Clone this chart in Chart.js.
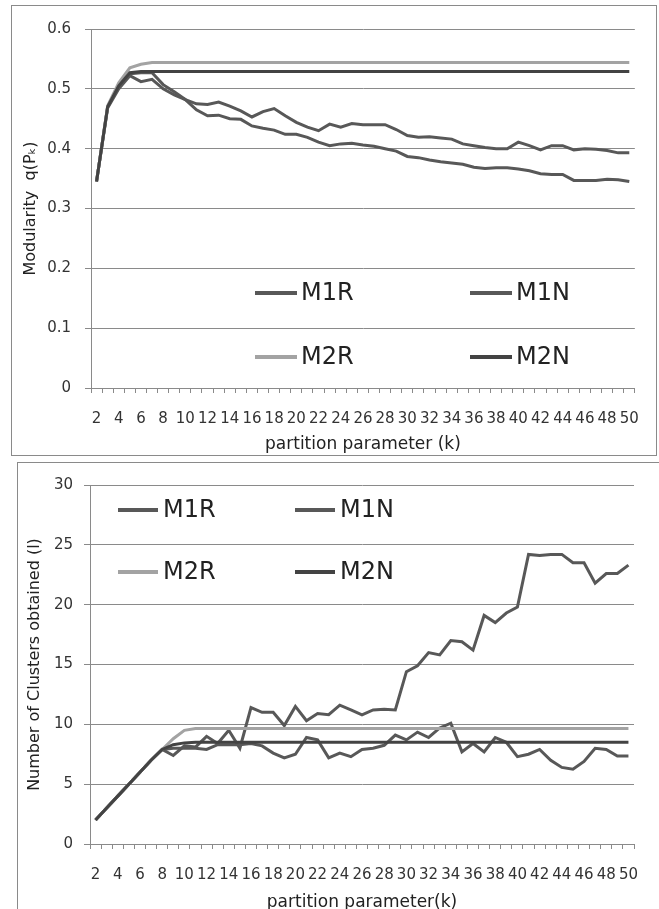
<!DOCTYPE html>
<html>
<head>
<meta charset="utf-8">
<script src="https://cdn.jsdelivr.net/npm/chart.js@4.4.1/dist/chart.umd.min.js"></script>
<style>
  body { margin: 0; width: 659px; height: 909px; overflow: hidden; background: #fff; position: relative; }
  .box { position: absolute; border: 1px solid #8a8a8a; background: #fff; }
  #box1 { left: 11px; top: 5px; width: 644px; height: 449px; }
  #box2 { left: 17px; top: 462px; width: 650px; height: 450px; }
  canvas { display: block; }
</style>
</head>
<body>
<div class="box" id="box1"><canvas id="js-modChart" width="644" height="449"></canvas></div>
<div class="box" id="box2"><canvas id="js-clusterChart" width="650" height="450"></canvas></div>
<script>
// partition parameter k
var kLabels = [2,3,4,5,6,7,8,9,10,11,12,13,14,15,16,17,18,19,20,21,22,23,24,25,26,
  27,28,29,30,31,32,33,34,35,36,37,38,39,40,41,42,43,44,45,46,47,48,49,50];

// modularity q(Pk)
var modM1R = [0.345,0.47,0.505,0.525,0.527,0.527,0.507,0.495,0.482,0.475,0.474,0.478,0.471,0.463,0.453,0.462,0.467,0.455,0.444,0.436,0.43,0.441,0.436,0.442,0.44,
  0.44,0.44,0.432,0.422,0.419,0.42,0.418,0.416,0.408,0.405,0.402,0.4,0.4,0.411,0.405,0.398,0.405,0.405,0.398,0.4,0.399,0.397,0.393,0.393];
var modM1N = [0.345,0.468,0.5,0.522,0.512,0.516,0.5,0.49,0.482,0.465,0.455,0.456,0.45,0.449,0.438,0.434,0.431,0.424,0.424,0.419,0.411,0.405,0.408,0.409,0.406,
  0.404,0.4,0.396,0.387,0.385,0.381,0.378,0.376,0.374,0.369,0.367,0.368,0.368,0.366,0.363,0.358,0.357,0.357,0.347,0.347,0.347,0.349,0.348,0.345];
var modM2R = [0.345,0.472,0.51,0.535,0.541,0.544,0.544,0.544,0.544,0.544,0.544,0.544,0.544,0.544,0.544,0.544,0.544,0.544,0.544,0.544,0.544,0.544,0.544,0.544,0.544,
  0.544,0.544,0.544,0.544,0.544,0.544,0.544,0.544,0.544,0.544,0.544,0.544,0.544,0.544,0.544,0.544,0.544,0.544,0.544,0.544,0.544,0.544,0.544,0.544];
var modM2N = [0.345,0.47,0.505,0.527,0.529,0.529,0.529,0.529,0.529,0.529,0.529,0.529,0.529,0.529,0.529,0.529,0.529,0.529,0.529,0.529,0.529,0.529,0.529,0.529,0.529,
  0.529,0.529,0.529,0.529,0.529,0.529,0.529,0.529,0.529,0.529,0.529,0.529,0.529,0.529,0.529,0.529,0.529,0.529,0.529,0.529,0.529,0.529,0.529,0.529];
var modTicks = [0, 0.6, 0.1]; // min, max, step

// number of clusters obtained (l)
var cluM1R = [2,3,4,5,6,7,7.9,7.4,8.2,8.1,9.0,8.4,9.5,8.0,11.4,11.0,11.0,9.9,11.5,10.3,10.9,10.8,11.6,11.2,10.8,
  11.2,11.25,11.2,14.4,14.9,16.0,15.8,17.0,16.9,16.2,19.1,18.5,19.3,19.8,24.2,24.1,24.2,24.2,23.5,23.5,21.8,22.6,22.6,23.3];
var cluM1N = [2,3,4,5,6,7,7.9,8.0,8.0,8.0,7.9,8.3,8.3,8.3,8.4,8.2,7.6,7.2,7.5,8.9,8.7,7.2,7.6,7.3,7.9,
  8.0,8.25,9.1,8.7,9.35,8.9,9.7,10.1,7.7,8.4,7.7,8.9,8.5,7.3,7.5,7.9,7.0,6.4,6.25,6.9,8.0,7.9,7.35,7.35];
var cluM2R = [2,3,4,5,6,7,7.9,8.8,9.5,9.65,9.65,9.65,9.65,9.65,9.65,9.65,9.65,9.65,9.65,9.65,9.65,9.65,9.65,9.65,9.65,
  9.65,9.65,9.65,9.65,9.65,9.65,9.65,9.65,9.65,9.65,9.65,9.65,9.65,9.65,9.65,9.65,9.65,9.65,9.65,9.65,9.65,9.65,9.65,9.65];
var cluM2N = [2,3,4,5,6,7,7.9,8.3,8.45,8.5,8.5,8.5,8.5,8.5,8.5,8.5,8.5,8.5,8.5,8.5,8.5,8.5,8.5,8.5,8.5,
  8.5,8.5,8.5,8.5,8.5,8.5,8.5,8.5,8.5,8.5,8.5,8.5,8.5,8.5,8.5,8.5,8.5,8.5,8.5,8.5,8.5,8.5,8.5,8.5];
var cluTicks = [0, 30, 5];

var seriesNames = ['M1R', 'M1N', 'M2R', 'M2N'];
var seriesColors = ['#585858', '#585858', '#a3a3a3', '#434343'];

Chart.defaults.font.family = "'DejaVu Sans', sans-serif";
Chart.defaults.color = '#333';

// legend drawn as a 2x2 grid inside the plot
var legendGrid = {
  id: 'legendGrid',
  afterDraw: function(chart, args, opts) {
    var ctx = chart.ctx;
    ctx.save();
    ctx.font = opts.font;
    ctx.textBaseline = 'middle';
    chart.data.datasets.forEach(function(ds, i) {
      var x = opts.cols[i % 2], y = opts.rows[Math.floor(i / 2)];
      ctx.strokeStyle = ds.borderColor;
      ctx.lineWidth = 4;
      ctx.beginPath();
      ctx.moveTo(x, y);
      ctx.lineTo(x + opts.lineLen, y);
      ctx.stroke();
      ctx.fillStyle = '#222';
      ctx.fillText(ds.label, x + opts.lineLen + opts.gap, y + 1);
    });
    ctx.restore();
  }
};

function makeSets(lists) {
  return lists.map(function(d, i) {
    return {
      label: seriesNames[i],
      data: d,
      borderColor: seriesColors[i],
      backgroundColor: seriesColors[i],
      borderWidth: 3,
      pointRadius: 0,
      tension: 0,
      order: 3 - i
    };
  });
}

function makeChart(id, sets, yt, cfg) {
  return new Chart(document.getElementById(id).getContext('2d'), {
    type: 'line',
    data: { labels: kLabels, datasets: makeSets(sets) },
    plugins: [legendGrid],
    options: {
      responsive: false,
      animation: false,
      layout: { padding: { top: cfg.padTop, right: cfg.padRight, left: 0, bottom: 0 } },
      plugins: {
        legend: { display: false },
        tooltip: { enabled: false },
        legendGrid: cfg.legend
      },
      scales: {
        x: {
          offset: true,
          afterFit: function(s) { s.height = cfg.xHeight; },
          grid: { display: true, drawOnChartArea: false, offset: true, tickLength: 5, color: '#8a8a8a' },
          border: { display: true, color: '#8a8a8a' },
          ticks: {
            autoSkip: false, maxRotation: 0, minRotation: 0, padding: 17,
            font: { size: 15 }, color: '#333',
            callback: function(v, i) { return i % 2 === 0 ? this.getLabelForValue(v) : ''; }
          },
          title: { display: true, text: cfg.xTitle, font: { size: 17 }, color: '#222', padding: { top: cfg.xTitlePad, bottom: 0 } }
        },
        y: {
          min: yt[0], max: yt[1],
          afterFit: function(s) { s.width = cfg.yWidth; },
          grid: { color: '#8a8a8a', tickLength: 6 },
          border: { display: true, color: '#8a8a8a' },
          ticks: { stepSize: yt[2], padding: cfg.yPad, font: { size: 15 }, color: '#333' },
          title: { display: true, text: cfg.yTitle, font: { size: 16 }, color: '#222', padding: { top: cfg.yTitlePad, bottom: 0 } }
        }
      }
    }
  });
}

//a.modularity
makeChart('js-modChart', [modM1R, modM1N, modM2R, modM2N], modTicks, {
  padTop: 17, padRight: 16, xHeight: 67, yWidth: 79, yPad: 14,
  xTitle: 'partition parameter (k)', xTitlePad: 2,
  yTitle: 'Modularity  q(P\u2096)', yTitlePad: 9,
  legend: { font: "24px 'DejaVu Sans'", cols: [243, 458], rows: [287, 351], lineLen: 42, gap: 4 }
});

//b.clusters
makeChart('js-clusterChart', [cluM1R, cluM1N, cluM2R, cluM2N], cluTicks, {
  padTop: 22, padRight: 34, xHeight: 69, yWidth: 72, yPad: 11,
  xTitle: 'partition parameter(k)', xTitlePad: 5,
  yTitle: 'Number of Clusters obtained (l)', yTitlePad: 7,
  legend: { font: "24px 'DejaVu Sans'", cols: [100, 277], rows: [47, 109], lineLen: 40, gap: 5 }
});
</script>
</body>
</html>
